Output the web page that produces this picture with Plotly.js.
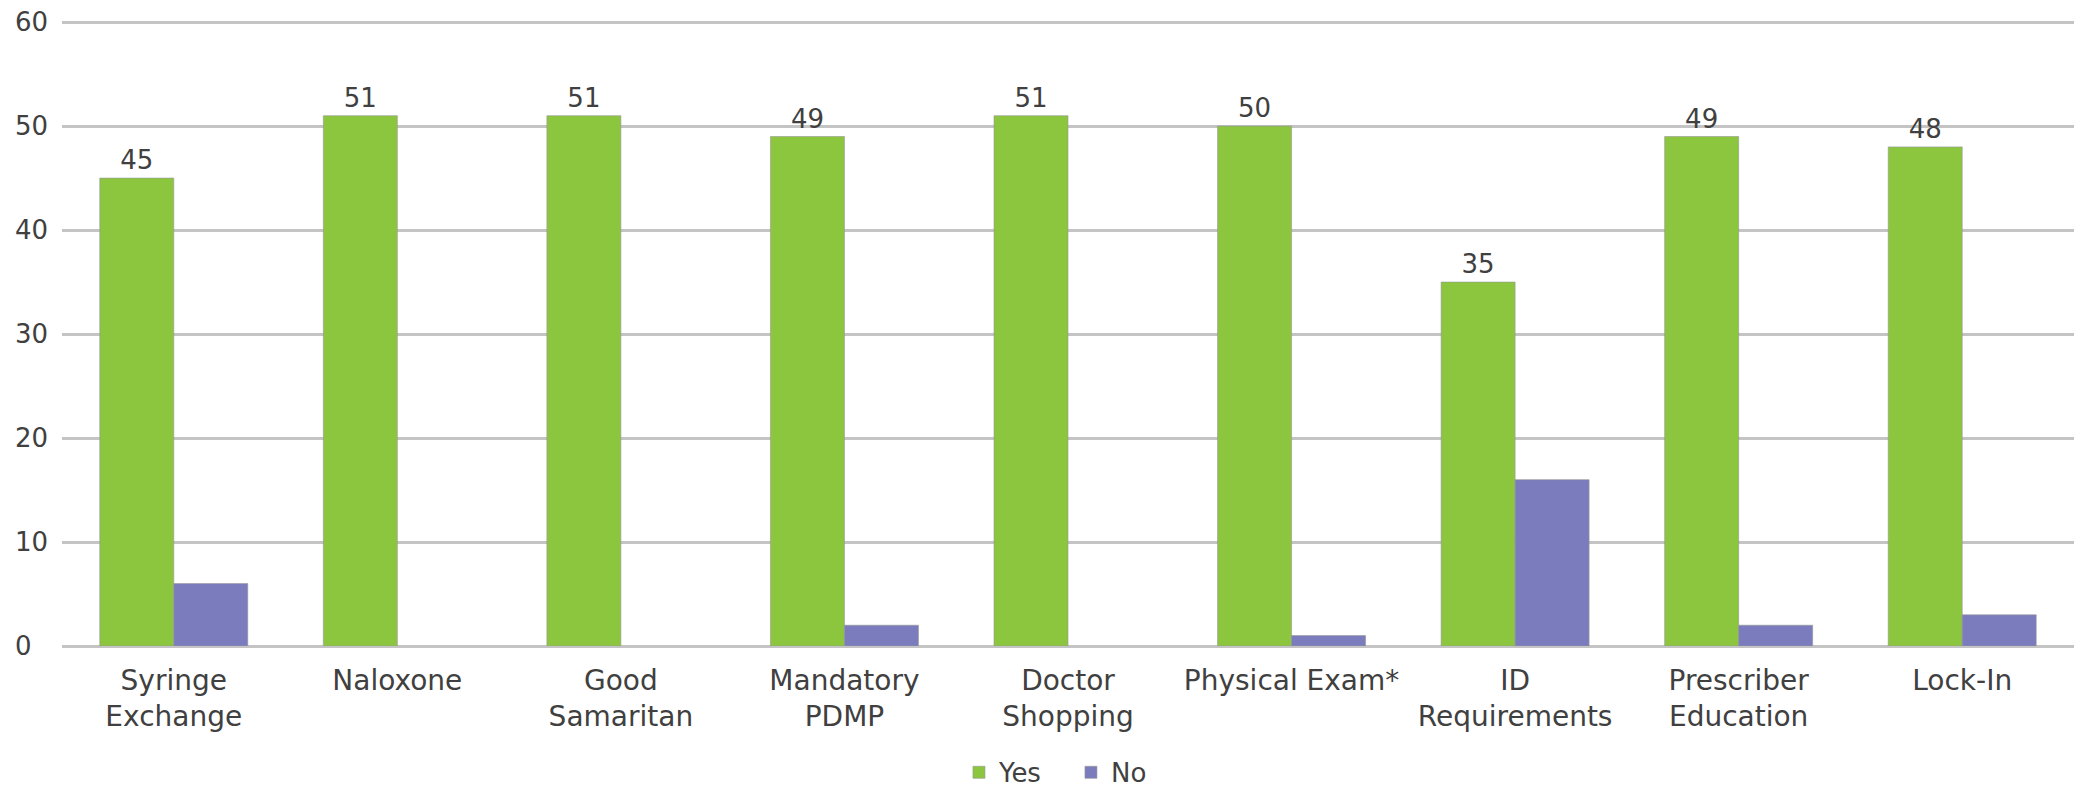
<!DOCTYPE html>
<html>
<head>
<meta charset="utf-8">
<script src="https://cdn.plot.ly/plotly-3.0.1.min.js"></script>
<style>
html,body{margin:0;padding:0;background:#fff;}
#chart{width:2074px;height:793px;}
</style>
</head>
<body>
<div id="chart"></div>
<script>
const categories = ["Syringe<br>Exchange", "Naloxone", "Good<br>Samaritan", "Mandatory<br>PDMP", "Doctor<br>Shopping", "Physical Exam*", "ID<br>Requirements", "Prescriber<br>Education", "Lock-In"];
const yesValues = [45, 51, 51, 49, 51, 50, 35, 49, 48];
const noValues = [6, 0, 0, 2, 0, 1, 16, 2, 3];
const yTicks = [0, 10, 20, 30, 40, 50, 60];

const font = "DejaVu Sans, Verdana, sans-serif";
const textColor = "#404040";
const edge = "rgba(150,150,150,0.6)";

const traces = [
  {
    type: "bar", name: "Yes", x: categories, y: yesValues,
    marker: {color: "#8cc63f", line: {color: edge, width: yesValues.map(v => v > 0 ? 1 : 0)}},
    text: yesValues.map(String), textposition: "outside", cliponaxis: false,
    textfont: {family: font, size: 26, color: textColor},
    hoverinfo: "x+y"
  },
  {
    type: "bar", name: "No", x: categories, y: noValues,
    marker: {color: "#7a7cbd", line: {color: edge, width: noValues.map(v => v > 0 ? 1 : 0)}},
    hoverinfo: "x+y"
  }
];

const plotWidth = 2074 - 62;
const annotations = yTicks.map(v => ({
  xref: "paper", yref: "y", x: (13 - 62) / plotWidth, y: v,
  xanchor: "left", yanchor: "middle", showarrow: false, text: String(v),
  font: {family: font, size: 26, color: textColor}
}));

const layout = {
  width: 2074, height: 793,
  margin: {l: 62, r: 0, t: 19, b: 147, pad: 0, autoexpand: false},
  paper_bgcolor: "#fff", plot_bgcolor: "#fff",
  barmode: "group", bargap: 0.338, bargroupgap: 0,
  showlegend: true,
  legend: {orientation: "h", x: 0.4458, xanchor: "left", yref: "container", y: 0.026, yanchor: "middle",
           font: {family: font, size: 26, color: textColor}, entrywidth: 67, entrywidthmode: "pixels",
           traceorder: "normal"},
  xaxis: {
    type: "category", tickfont: {family: font, size: 28, color: textColor},
    showgrid: false, showline: false, ticks: "", ticklabelstandoff: 15, fixedrange: true
  },
  yaxis: {
    range: [0, 60.3], tickvals: yTicks, showticklabels: false,
    showgrid: true, gridcolor: "#c4c4c4", gridwidth: 3,
    zeroline: true, zerolinecolor: "#c4c4c4", zerolinewidth: 3,
    showline: false, ticks: "", fixedrange: true
  },
  annotations: annotations,
  font: {family: font, color: textColor}
};

Plotly.newPlot("chart", traces, layout, {displayModeBar: false, staticPlot: true});
</script>
</body>
</html>
